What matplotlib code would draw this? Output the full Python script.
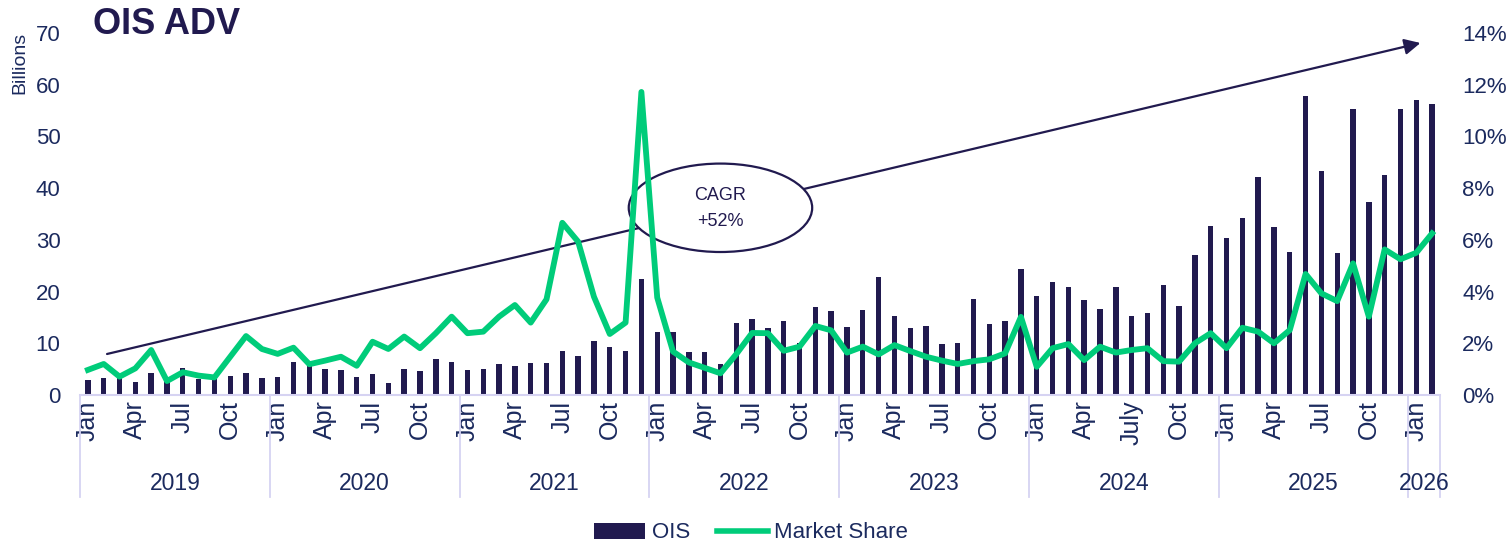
import numpy as np
import matplotlib
matplotlib.use('Agg')
import matplotlib.pyplot as plt
import matplotlib.transforms as mtransforms
from matplotlib.patches import Ellipse, Patch
from matplotlib.lines import Line2D
from matplotlib.ticker import PercentFormatter

plt.rcParams['font.family'] = ['Liberation Sans', 'DejaVu Sans']

# Datos: ADV mensual de OIS (miles de millones) y cuota de mercado (%)
years = [2019, 2020, 2021, 2022, 2023, 2024, 2025, 2026]
months_in_year = [12, 12, 12, 12, 12, 12, 12, 2]

ois = [2.9, 3.2, 3.3, 2.6, 4.3, 3.0, 5.2, 3.0, 3.1, 3.7, 4.2, 3.2,
       3.4, 6.4, 5.6, 5.0, 4.8, 3.4, 4.1, 2.4, 5.0, 4.6, 7.0, 6.4,
       4.8, 5.0, 5.9, 5.6, 6.1, 6.2, 8.6, 7.6, 10.4, 9.2, 8.5, 22.5,
       12.1, 12.1, 8.3, 8.3, 5.9, 13.9, 14.6, 13.0, 14.3, 10.1, 17.0, 16.2,
       13.1, 16.4, 22.8, 15.3, 12.9, 13.3, 9.8, 10.0, 18.5, 13.7, 14.4, 24.3,
       19.1, 21.9, 20.9, 18.3, 16.6, 20.9, 15.3, 15.9, 21.3, 17.3, 27.0, 32.6,
       30.3, 34.2, 42.2, 32.4, 27.7, 57.8, 43.3, 27.4, 55.3, 37.4, 42.6, 55.3,
       57.1, 56.2]

market_share = [0.97, 1.20, 0.71, 1.03, 1.74, 0.54, 0.88, 0.75, 0.68, 1.48, 2.28, 1.78,
                1.59, 1.83, 1.19, 1.33, 1.48, 1.13, 2.06, 1.78, 2.26, 1.81, 2.39, 3.03,
                2.39, 2.45, 3.03, 3.48, 2.80, 3.70, 6.66, 5.93, 3.80, 2.36, 2.80, 11.72,
                3.77, 1.68, 1.26, 1.05, 0.84, 1.58, 2.40, 2.39, 1.71, 1.87, 2.67, 2.50,
                1.64, 1.87, 1.57, 1.93, 1.70, 1.48, 1.33, 1.20, 1.31, 1.38, 1.61, 3.02,
                1.09, 1.81, 1.97, 1.35, 1.87, 1.64, 1.74, 1.81, 1.31, 1.29, 2.00, 2.39,
                1.81, 2.60, 2.45, 2.00, 2.51, 4.68, 3.93, 3.63, 5.09, 3.03, 5.63, 5.25,
                5.50, 6.25]

# etiquetas de meses en el eje x (mes dentro del año)
tick_month = [0, 3, 6, 9]
tick_names = ['Jan', 'Apr', 'Jul', 'Oct']
names_2024 = ['Jan', 'Apr', 'July', 'Oct']

NAVY = '#211a4f'
TEXT = '#1b2a5e'
GREEN = '#00cc7a'
LAV = '#d6d3f2'

x = np.arange(len(ois))
starts = np.concatenate([[0], np.cumsum(months_in_year)])

tick_pos, tick_lab = [], []
for i, yr in enumerate(years):
    names = names_2024 if yr == 2024 else tick_names
    for m, nm in zip(tick_month, names):
        if m < months_in_year[i]:
            tick_pos.append(starts[i] + m)
            tick_lab.append(nm)

fig = plt.figure(figsize=(15.12, 5.46), dpi=100)
ax = fig.add_axes([80 / 1512, 1 - 395 / 546, 1360 / 1512, 362 / 546])

ax.bar(x, ois, width=0.34, color=NAVY, zorder=2)
ax.set_xlim(-0.5, len(ois) - 0.5)
ax.set_ylim(0, 70)
ax.set_yticks(range(0, 71, 10))
ax.tick_params(axis='y', length=0, pad=14, labelsize=16, labelcolor=TEXT)
ax.set_xticks(tick_pos)
ax.set_xticklabels(tick_lab, rotation=90, fontsize=18, color=TEXT)
ax.tick_params(axis='x', length=0, pad=4)
for s in ['top', 'left', 'right']:
    ax.spines[s].set_visible(False)
ax.spines['bottom'].set_color(LAV)
ax.spines['bottom'].set_linewidth(1.5)

# separadores de años y etiquetas
trans = mtransforms.blended_transform_factory(ax.transData, ax.transAxes)
for b in starts:
    ax.plot([b - 0.5, b - 0.5], [0, -0.282], color=LAV, lw=1.3,
            transform=trans, clip_on=False)
for i, yr in enumerate(years):
    cx = (starts[i] + starts[i + 1]) / 2 - 0.5
    ax.text(cx, -0.245, str(yr), transform=trans, ha='center', va='center',
            fontsize=16.5, color=TEXT)

# flecha CAGR y elipse
ax.annotate('', xy=(84.26, 68.07), xytext=(1.21, 7.93),
            arrowprops=dict(arrowstyle='-|>', color=NAVY, lw=1.6,
                            mutation_scale=24, shrinkA=0, shrinkB=0),
            zorder=3)
ax.add_patch(Ellipse((40.0, 36.2), 11.6, 17.1, facecolor='white',
                     edgecolor=NAVY, lw=1.6, zorder=4))
ax.text(40.0, 36.0, 'CAGR\n+52%', ha='center', va='center', fontsize=13,
        color=NAVY, linespacing=1.7, zorder=5)

ax2 = ax.twinx()
ax2.plot(x, market_share, color=GREEN, lw=4.2, zorder=3)
ax2.set_ylim(0, 14)
ax2.set_yticks(range(0, 15, 2))
ax2.yaxis.set_major_formatter(PercentFormatter(decimals=0))
ax2.tick_params(axis='y', length=0, pad=16, labelsize=16, labelcolor=TEXT)
for s in ax2.spines.values():
    s.set_visible(False)

fig.text(93 / 1512, 1 - 24 / 546, 'OIS ADV', fontsize=26, fontweight='bold',
         color=NAVY, va='center', ha='left')
fig.text(20 / 1512, 1 - 63 / 546, 'Billions', rotation=90, fontsize=14,
         color=TEXT, ha='center', va='center')

handles = [Patch(facecolor=NAVY), Line2D([], [], color=GREEN, lw=4)]
fig.legend(handles, ['OIS', 'Market Share'], loc='center',
           bbox_to_anchor=(751 / 1512, 1 - 533 / 546), ncol=2, frameon=False,
           fontsize=16, handlelength=2.3, handletextpad=0.3,
           columnspacing=1.2, labelcolor=TEXT)

fig.savefig('out.png', dpi=100)
